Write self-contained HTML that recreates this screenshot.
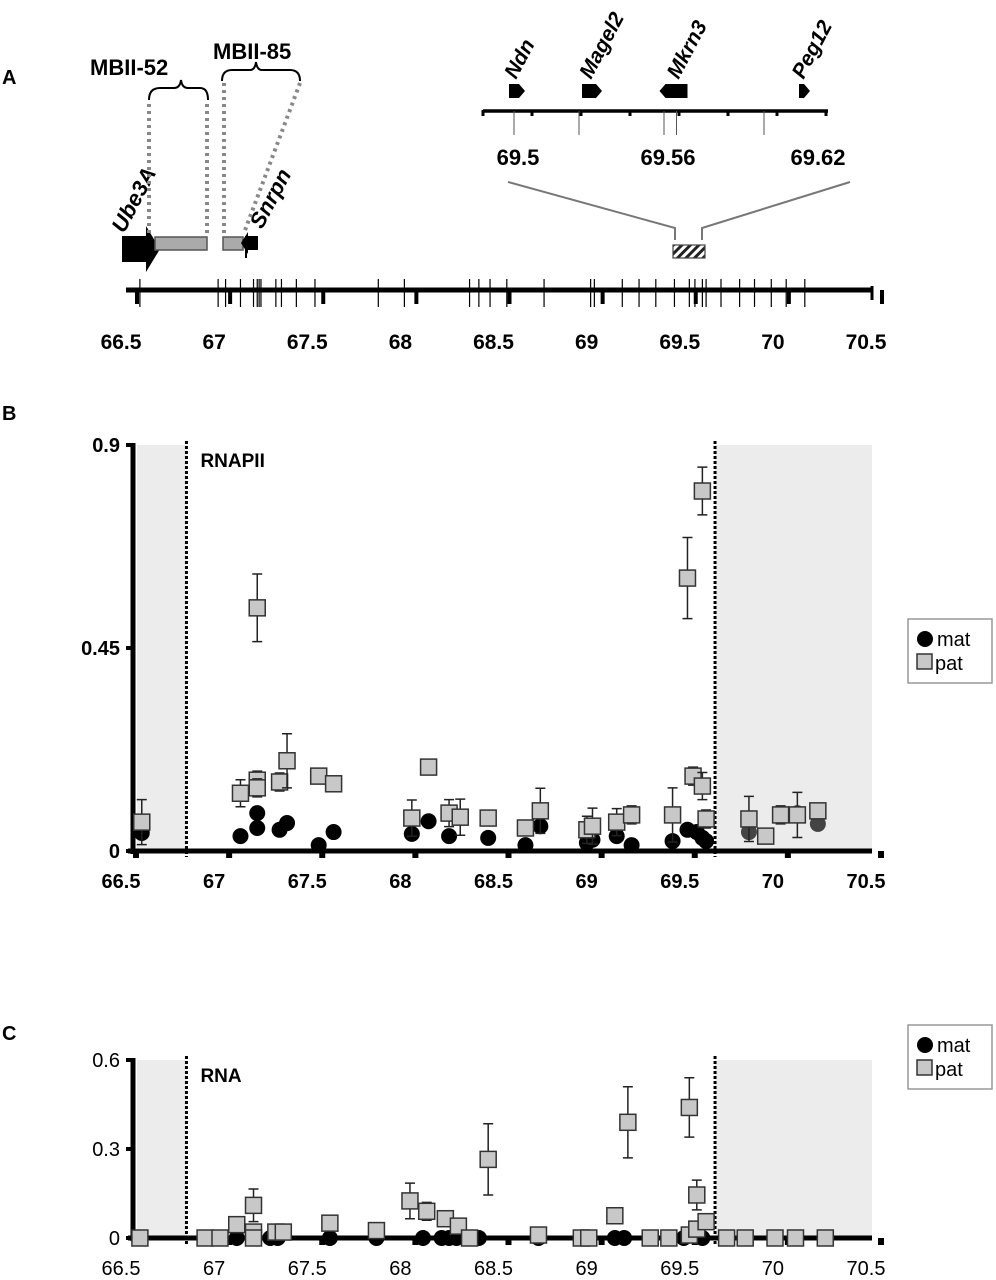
<!DOCTYPE html>
<html><head><meta charset="utf-8">
<style>
html,body{margin:0;padding:0;background:#fff;}
svg{display:block;font-family:"Liberation Sans",Arial,sans-serif;}
</style></head>
<body>
<svg id="fig" width="996" height="1280" viewBox="0 0 996 1280" xmlns="http://www.w3.org/2000/svg">
<defs>
<pattern id="hatch" width="6" height="6" patternUnits="userSpaceOnUse" patternTransform="rotate(45)">
<rect width="6" height="6" fill="#fff"/><rect width="3" height="6" fill="#222"/></pattern>
</defs>
<g id="panelA"></g>
<g id="panelB"></g>
<g id="panelC"></g>
</svg>
<script>
// ---- shared x-axis data ----
const xTickLabels = ["66.5","67","67.5","68","68.5","69","69.5","70","70.5"];
const xTickValues = [66.5,67,67.5,68,68.5,69,69.5,70,70.5];

// ---- Panel A data ----
const locusMarkers = [66.58,67.0,67.04,67.12,67.19,67.21,67.22,67.23,67.31,67.34,67.42,67.52,67.86,68.0,68.35,68.4,68.46,68.55,68.75,69.0,69.02,69.17,69.26,69.35,69.45,69.53,69.56,69.6,69.62,69.7,69.8,69.88,69.97,70.05,70.15];
const insetLabels = ["69.5","69.56","69.62"];
const insetValues = [69.5,69.56,69.62];
const insetGenes = ["Ndn","Magel2","Mkrn3","Peg12"];
const insetGenePos = [69.5,69.53,69.565,69.615];

// ---- Panel B data ----
const bPatX = [66.59,67.12,67.21,67.21,67.21,67.33,67.37,67.54,67.62,68.04,68.13,68.24,68.30,68.45,68.65,68.73,68.98,69.01,69.14,69.22,69.44,69.52,69.60,69.55,69.60,69.62,69.85,69.94,70.02,70.11,70.22];
const bPatY = [0.064,0.128,0.539,0.157,0.140,0.153,0.200,0.166,0.149,0.073,0.186,0.084,0.075,0.073,0.051,0.089,0.047,0.055,0.064,0.080,0.080,0.605,0.798,0.166,0.144,0.071,0.071,0.033,0.080,0.080,0.089];
const bPatErr = [0.05,0.03,0.075,0.02,0.02,0.02,0.06,0,0,0.04,0,0.03,0.04,0,0,0.05,0.03,0.04,0.03,0.02,0.06,0.09,0.053,0.02,0.03,0.02,0.05,0,0.02,0.05,0];
const bMatX = [66.59,67.12,67.21,67.21,67.33,67.37,67.54,67.62,68.04,68.13,68.24,68.45,68.65,68.73,68.98,69.01,69.14,69.22,69.44,69.52,69.57,69.60,69.62,69.85,69.94,70.11,70.22];
const bMatY = [0.040,0.033,0.051,0.084,0.047,0.062,0.013,0.042,0.038,0.066,0.033,0.029,0.013,0.055,0.018,0.025,0.033,0.013,0.022,0.047,0.042,0.029,0.022,0.042,0.033,0.084,0.060];

// ---- Panel C data ----
const cPatX = [66.58,66.93,67.01,67.10,67.19,67.19,67.19,67.31,67.35,67.60,67.85,68.03,68.12,68.22,68.29,68.35,68.45,68.72,68.95,68.99,69.13,69.20,69.32,69.42,69.53,69.53,69.57,69.57,69.62,69.73,69.83,69.99,70.10,70.26];
const cPatY = [0,0,0,0.045,0.110,0.020,0,0.020,0.020,0.050,0.025,0.125,0.090,0.065,0.040,0,0.265,0.010,0,0,0.075,0.390,0,0,0.010,0.440,0.145,0.030,0.055,0,0,0,0,0];
const cPatErr = [0,0,0,0.01,0.055,0,0,0,0,0,0,0.06,0.03,0,0,0,0.12,0,0,0,0.012,0.12,0,0,0,0.1,0.05,0,0,0,0,0,0,0];
const cMatX = [67.0,67.1,67.28,67.32,67.6,67.85,68.1,68.2,68.24,68.28,68.4,68.72,69.13,69.18,69.5,69.6,69.99];
const cMatY = [0,0,0,0,0,0,0,0,0,0,0,0,0,0,0,0,0];

const NS = "http://www.w3.org/2000/svg";
function mk(parent, tag, attrs, text){
  const e = document.createElementNS(NS, tag);
  for (const k in attrs) e.setAttribute(k, attrs[k]);
  if (text !== undefined) e.textContent = text;
  parent.appendChild(e);
  return e;
}
const X0 = 125, XU = 186.25;
function xs(v){ return X0 + (v - 66.5) * XU; }

// ================= Panel A =================
(function(){
  const g = document.getElementById('panelA');
  let t = mk(g,'text',{x:2,y:84,'font-size':20,'font-weight':'bold'},'A');
  
  
  let ax = mk(g,'line',{x1:126,y1:290,x2:872,y2:290,stroke:'#000','stroke-width':5});
  
  
  mk(g,'line',{x1:872,y1:286,x2:872,y2:300,stroke:'#000','stroke-width':3});
  locusMarkers.forEach(v=>{
    const l = mk(g,'line',{x1:xs(v),y1:279,x2:xs(v),y2:307,stroke:'#000','stroke-width':1.2});
    
    
  });
  xTickValues.forEach((v,i)=>{
    const tk = mk(g,'rect',{x:xs(v)+10,y:290,width:4,height:14,fill:'#000'});
    
    
    const lb = mk(g,'text',{x:xs(v)-4,y:349,'font-size':21,'text-anchor':'middle','font-weight':'bold'},xTickLabels[i]);
    
    
  });
  let ub = mk(g,'path',{d:'M122 236 H146 V226 L160 249 L146 272 V262 H122 Z',fill:'#000'});
  
  
  let b1 = mk(g,'rect',{x:155,y:237,width:52,height:13,fill:'#aaa',stroke:'#555','stroke-width':1.5});
  
  
  let b2 = mk(g,'rect',{x:223,y:237,width:20,height:13,fill:'#aaa',stroke:'#555','stroke-width':1.5});
  
  
  let sn = mk(g,'path',{d:'M258 236 H248 V232 L241 243 L248 254 V250 H258 Z',fill:'#000'});
  
  
  mk(g,'line',{x1:246,y1:236,x2:246,y2:258,stroke:'#000','stroke-width':2});
  let t1 = mk(g,'text',{x:0,y:0,'font-size':22,'font-style':'italic','font-weight':'bold',transform:'translate(124,234) rotate(-62)'},'Ube3A');
   
  let t2 = mk(g,'text',{x:0,y:0,'font-size':22,'font-style':'italic','font-weight':'bold',transform:'translate(262,230) rotate(-62)'},'Snrpn');
   
  let t3 = mk(g,'text',{x:90,y:75,'font-size':22,'font-weight':'bold'},'MBII-52');
   
  let t4 = mk(g,'text',{x:213,y:59,'font-size':22,'font-weight':'bold'},'MBII-85');
   
  mk(g,'path',{d:'M149 100 Q149 88 160 88 H174 Q180 88 181 80 Q182 88 188 88 H200 Q208 88 208 100',fill:'none',stroke:'#000','stroke-width':2});
  mk(g,'path',{d:'M222 81 Q222 70 232 70 H250 Q255 70 256 62 Q257 70 262 70 H290 Q300 70 300 81',fill:'none',stroke:'#000','stroke-width':2});
  const dots = [[149,104,149,233],[207,104,207,233],[224,83,224,233],[300,83,244,233]];
  dots.forEach(d=>{
    const l=mk(g,'line',{x1:d[0],y1:d[1],x2:d[2],y2:d[3],stroke:'#888','stroke-width':4,'stroke-dasharray':'3 4'});
    
    
  });
  let hb = mk(g,'rect',{x:673,y:245,width:32,height:13,fill:'url(#hatch)',stroke:'#444','stroke-width':1.2});
  
  
  mk(g,'polyline',{points:'508,182 675,228 675,240',fill:'none',stroke:'#777','stroke-width':2});
  mk(g,'polyline',{points:'850,182 702,228 702,240',fill:'none',stroke:'#777','stroke-width':2});
  const IX0=514, IU=(814-514)/0.12;
  function ix(v){return IX0+(v-69.5)*IU;}
  let ia = mk(g,'line',{x1:483,y1:111,x2:828,y2:111,stroke:'#000','stroke-width':3.5});
   
  [69.5,69.526,69.56,69.565,69.6].forEach(v=>mk(g,'line',{x1:ix(v),y1:111,x2:ix(v),y2:135,stroke:'#555','stroke-width':1}));
  for(let k=0;k<8;k++) mk(g,'rect',{x:483+k*49-1.5,y:110,width:3,height:6,fill:'#000'});
  insetValues.forEach((v,i)=>{
    const lb=mk(g,'text',{x:ix(v)+4,y:165,'font-size':22,'font-weight':'bold','text-anchor':'middle'},insetLabels[i]);
     
  });
  const dirs=[1,1,-1,1], wid=[10,14,22,5];
  insetGenes.forEach((name,i)=>{
    const x=ix(insetGenePos[i]);
    const d=dirs[i], w=wid[i];
    let p;
    if(d>0) p=`M${x-w/2} 84 H${x+w/2} L${x+w/2+6} 91 L${x+w/2} 98 H${x-w/2} Z`;
    else p=`M${x+w/2} 84 H${x-w/2} L${x-w/2-6} 91 L${x-w/2} 98 H${x+w/2} Z`;
    const ge=mk(g,'path',{d:p,fill:'#000'});
     
    const tl=mk(g,'text',{x:0,y:0,'font-size':21,'font-style':'italic','font-weight':'bold',transform:`translate(${x+2},80) rotate(-62)`},name);
     
  });
})();

// ================= chart builder =================
function chart(gid, opts){
  const g=document.getElementById(gid);
  const {y0,yTop,vmax,ticks,tickLbl,title,letter,letterY,legY,patX,patY,patErr,matX,matY,bold}=opts;
  const ys=v=>y0-(v/vmax)*(y0-yTop);
  const fw = bold?'bold':'normal';
  let L=mk(g,'text',{x:2,y:letterY,'font-size':20,'font-weight':'bold'},letter);
   
  const xl=xs(66.83), xr=xs(69.668);
  let s1=mk(g,'rect',{x:137,y:yTop,width:xl-137,height:y0-yTop,fill:'#ececec'});
   
  let s2=mk(g,'rect',{x:xr,y:yTop,width:872-xr,height:y0-yTop,fill:'#ececec'});
   
  [xl,xr].forEach(x=>{
    const l=mk(g,'line',{x1:x,y1:yTop-4,x2:x,y2:y0+6,stroke:'#000','stroke-width':3,'stroke-dasharray':'3 2'});
     
  });
  let yt=mk(g,'text',{x:xl+14,y:yTop+22,'font-size':19,'font-weight':'bold'},title);
   
  let ya=mk(g,'line',{x1:133,y1:yTop-2,x2:133,y2:y0+3,stroke:'#000','stroke-width':5});
   
  let xa=mk(g,'line',{x1:128,y1:y0,x2:872,y2:y0,stroke:'#000','stroke-width':5});
   
  ticks.forEach((v,i)=>{
    mk(g,'rect',{x:126,y:ys(v)-2,width:7,height:4,fill:'#000'});
    const t=mk(g,'text',{x:120,y:ys(v)+7,'font-size':20,'text-anchor':'end','font-weight':fw},tickLbl[i]);
     
  });
  xTickValues.forEach((v,i)=>{
    mk(g,'rect',{x:xs(v)+8,y:y0,width:6,height:7,fill:'#000'});
    const t=mk(g,'text',{x:xs(v)-4,y:y0+37,'font-size':20,'text-anchor':'middle','font-weight':fw},xTickLabels[i]);
     
  });
  matX.forEach((v,i)=>{
    const inShade = v>69.668;
    const c=mk(g,'circle',{cx:xs(v),cy:ys(matY[i]),r:8,fill:inShade?'#444':'#000'});
     
  });
  patX.forEach((v,i)=>{
    const x=xs(v), y=ys(patY[i]), e=patErr[i];
    if(e>0){
      const eb=mk(g,'path',{d:`M${x} ${ys(patY[i]+e)} V${ys(Math.max(0,patY[i]-e))} M${x-5} ${ys(patY[i]+e)} H${x+5} M${x-5} ${ys(Math.max(0,patY[i]-e))} H${x+5}`,stroke:'#222','stroke-width':1.5,fill:'none'});
       
    }
    const r=mk(g,'rect',{x:x-8,y:y-8,width:16,height:16,fill:'#c8c8c8',stroke:'#333','stroke-width':1.5});
     
  });
  const lg=mk(g,'g',{});
   
  mk(lg,'rect',{x:908,y:legY,width:84,height:64,fill:'#fff',stroke:'#999','stroke-width':1.5});
  const c=mk(lg,'circle',{cx:925,cy:legY+20,r:8,fill:'#000'});
   
  const t1=mk(lg,'text',{x:937,y:legY+27,'font-size':20},'mat');
   
  const r=mk(lg,'rect',{x:917,y:legY+35,width:15,height:15,fill:'#c8c8c8',stroke:'#333','stroke-width':1.5});
   
  const t2=mk(lg,'text',{x:935,y:legY+51,'font-size':20},'pat');
   
}

chart('panelB',{y0:851,yTop:445,vmax:0.9,ticks:[0,0.45,0.9],tickLbl:["0","0.45","0.9"],title:'RNAPII',letter:'B',letterY:420,legY:619,
  patX:bPatX,patY:bPatY,patErr:bPatErr,matX:bMatX,matY:bMatY,bold:true});
chart('panelC',{y0:1238,yTop:1060,vmax:0.6,ticks:[0,0.3,0.6],tickLbl:["0","0.3","0.6"],title:'RNA',letter:'C',letterY:1040,legY:1025,
  patX:cPatX,patY:cPatY,patErr:cPatErr,matX:cMatX,matY:cMatY,bold:false});
</script>
</body></html>
